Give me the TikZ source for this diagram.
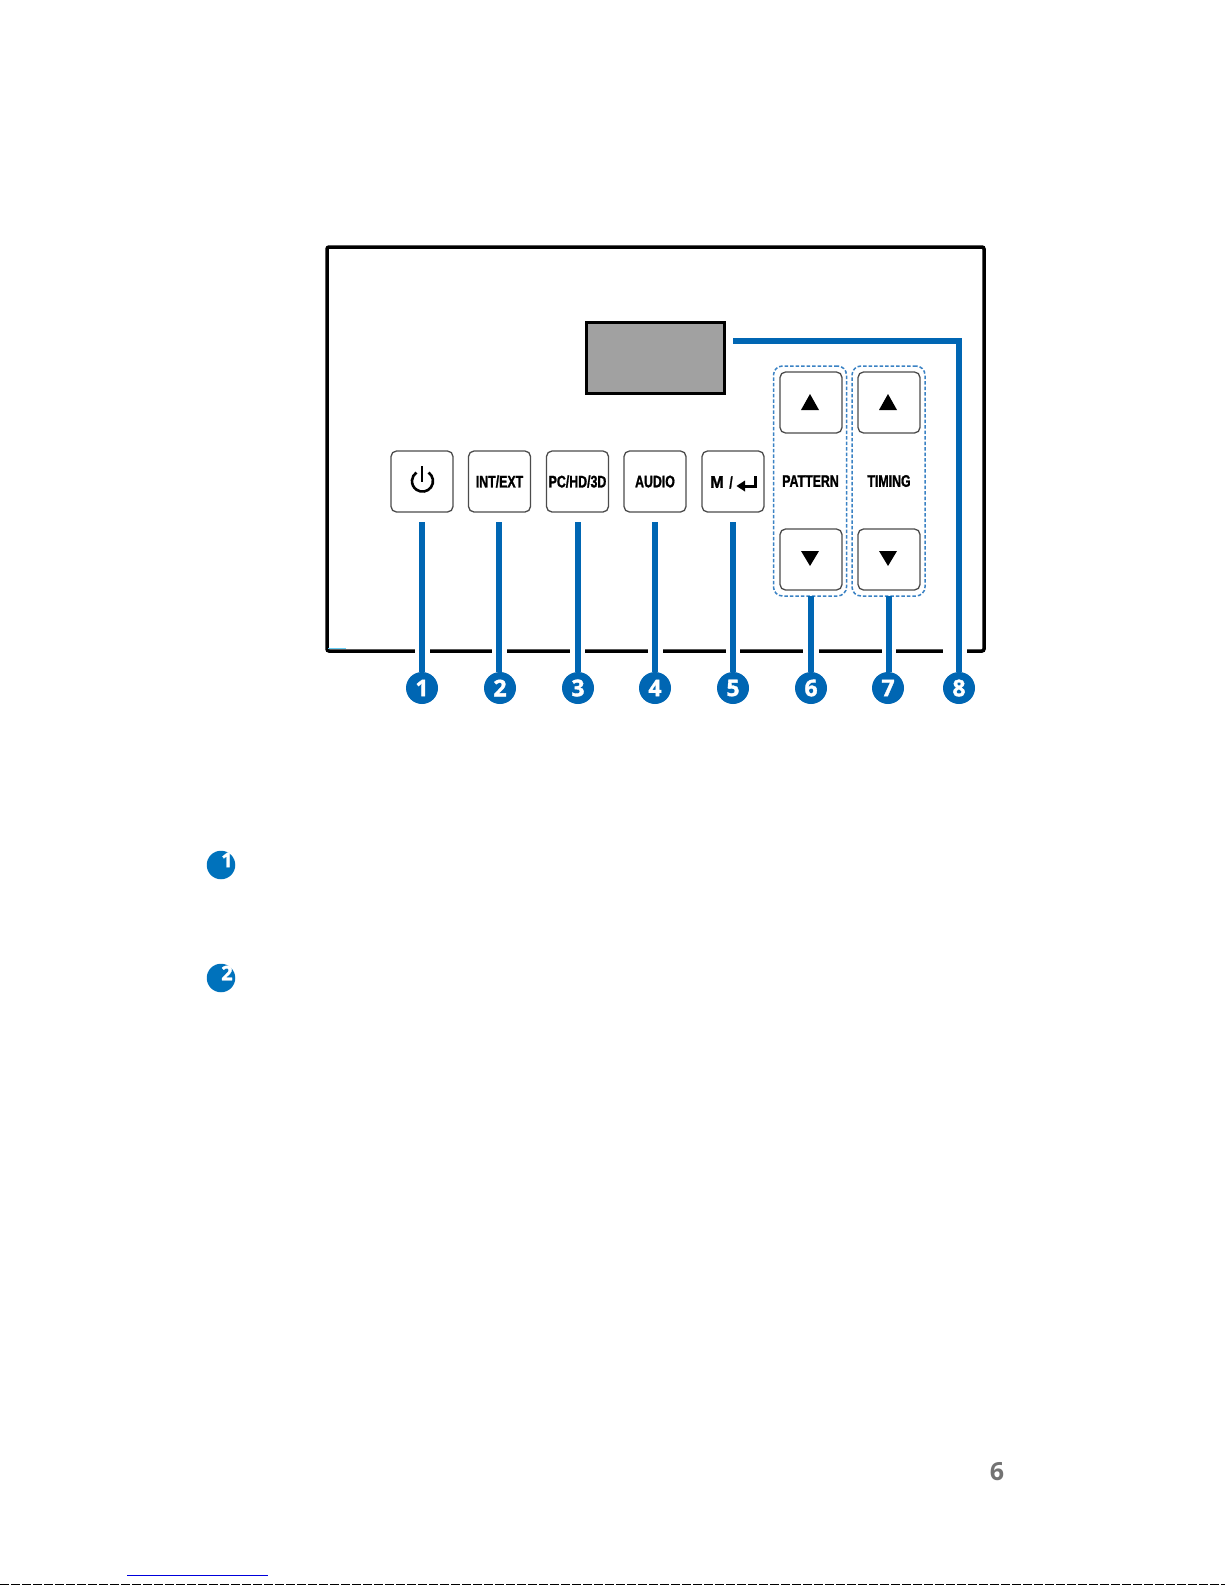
\documentclass[tikz,border=0pt]{standalone}
\usepackage{fontspec}
\setmainfont{Liberation Sans}
\newfontfamily\numfont[UprightFont=* Bold,BoldFont=* Bold,FakeBold=1.5]{Open Sans}
\newfontfamily\btnfont[UprightFont=* Bold,BoldFont=* Bold,FakeBold=1.5]{Liberation Sans}
\newfontfamily\pagefont[UprightFont=* Bold,BoldFont=* Bold]{Open Sans}
\definecolor{callout}{HTML}{0066B3}
\definecolor{bullet}{HTML}{0072BC}
\definecolor{dashblue}{HTML}{3A82C4}
\newcommand{\btn}[1]{{\btnfont\fontsize{16.7pt}{17pt}\selectfont\scalebox{.74}[1]{#1}}}
\tikzset{
  x=1pt,y=-1pt,
  panel/.style={draw=black,line width=3.5pt,rounded corners=2pt,minimum width=657pt,minimum height=404pt,inner sep=0},
  keybox/.style={draw=black!70,line width=1.3pt,rounded corners=5.5pt,minimum width=62pt,minimum height=61pt,inner sep=0,text=black},
  group/.style={draw=dashblue,line width=1.5pt,dash pattern=on 3.5pt off 2pt,rounded corners=9pt,minimum width=73pt,minimum height=230pt,inner sep=0},
  display/.style={draw=black,line width=2.6pt,fill=black!37,minimum width=138pt,minimum height=71pt,inner sep=0},
  callnum/.style={circle,fill=callout,minimum size=32pt,inner sep=0,text=white,font=\numfont\fontsize{23pt}{23pt}\selectfont},
  lead/.style={draw=callout,line width=6pt},
  gap/.style={draw=white,line width=7pt},
  smallbul/.style={circle,fill=bullet,minimum size=28.5pt,inner sep=0},
  smalldig/.style={text=white,inner sep=0,font=\numfont\fontsize{20pt}{20pt}\selectfont},
}
\begin{document}
\begin{tikzpicture}
\useasboundingbox (0,0) rectangle (1225,1585);
\fill[white] (0,0) rectangle (1225,1585);
% panel
\node[panel] (panel) at (655.5,449) {};
\draw[cyan!60,line width=1pt] (328,648.5) -- (346,648.5);
% gaps in the bottom edge
\foreach \a/\b in {414.5/429.5,492/507,570/585,648/662.5,726/740,803/819,882/896,943/967}
  \draw[gap] (\a,651) -- (\b,651);
% display
\node[display] (disp) at (655.5,358) {};
% keys
\node[keybox] (k1) at (422,481.5) {};
\node[keybox] (k2) at (499.5,481.5) {\btn{INT/EXT}};
\node[keybox] (k3) at (577.5,481.5) {\btn{PC/HD/3D}};
\node[keybox] (k4) at (655,481.5) {\btn{AUDIO}};
\node[keybox] (k5) at (733,481.5) {};
\node[inner sep=0] (mlab) at (717,482) {{\btnfont\fontsize{17pt}{17pt}\selectfont\scalebox{.95}[1]{M}}};
\node[inner sep=0] (slab) at (731,482.5) {\btn{/}};
\draw[line width=3pt] (755.5,476) -- (755.5,486) -- (743,486);
\fill (736.5,486) -- (745,480.5) -- (745,491.5) -- cycle;
% power symbol
\draw[line width=2.6pt] (428.5,472.5) arc[start angle=-55,end angle=235,radius=10.5];
\draw[line width=2.6pt] (422,466) -- (422,482);
% groups
\node[group] (g6) at (810,481) {};
\node[group] (g7) at (888.5,481) {};
\node[keybox] (u6) at (811,402.5) {};
\node[keybox] (d6) at (811,559.5) {};
\node[keybox] (u7) at (889,402.5) {};
\node[keybox] (d7) at (889,559.5) {};
\node[inner sep=0] (p6) at (810.5,481) {\btn{PATTERN}};
\node[inner sep=0] (t7) at (889,481) {\btn{TIMING}};
\fill (810,394) -- (819,410) -- (801,410) -- cycle;
\fill (888,394) -- (897,410) -- (879,410) -- cycle;
\fill (810,566) -- (819,551) -- (801,551) -- cycle;
\fill (888,566) -- (897,551) -- (879,551) -- cycle;
% callouts
\node[callnum] (c1) at (422,688) {1};
\node[callnum] (c2) at (500,688) {2};
\node[callnum] (c3) at (578,688) {3};
\node[callnum] (c4) at (655,688) {4};
\node[callnum] (c5) at (733,688) {5};
\node[callnum] (c6) at (811,688) {6};
\node[callnum] (c7) at (888,688) {7};
\node[callnum] (c8) at (959,688) {8};
\coordinate (s1) at (422,522);
\coordinate (s2) at (499,522);
\coordinate (s3) at (578,522);
\coordinate (s4) at (655,522);
\coordinate (s5) at (733,522);
\coordinate (s6) at (810.5,596);
\coordinate (s7) at (888.5,596);
\coordinate (s8) at (733,341);
\coordinate (b8) at (959,341);
\draw[lead] (s1) -- (s1 |- c1.north);
\draw[lead] (s2) -- (s2 |- c2.north);
\draw[lead] (s3) -- (s3 |- c3.north);
\draw[lead] (s4) -- (s4 |- c4.north);
\draw[lead] (s5) -- (s5 |- c5.north);
\draw[lead] (s6) -- (s6 |- c6.north);
\draw[lead] (s7) -- (s7 |- c7.north);
\draw[lead,line cap=butt] (s8) -- (b8) -- (c8.north);
% list bullets
\node[smallbul] (b1) at (221,865) {};
\node[smalldig] (n1) at (227,860) {1};
\node[smallbul] (b2) at (221,978) {};
\node[smalldig] (n2) at (227,973) {2};
% page number
\node[inner sep=0,text=black!55,font=\pagefont\fontsize{25pt}{25pt}\selectfont] (pg) at (997,1472) {6};
% footer
\coordinate (l1) at (127,1575.5);
\coordinate (l2) at (268,1575.5);
\draw[draw={rgb,255:red,0;green,0;blue,220},line width=1.2pt] (l1) -- (l2);
\coordinate (e1) at (0,1584.5);
\coordinate (e2) at (1225,1584.5);
\draw[black,line width=1pt,dash pattern=on 9pt off 2pt] (e1) -- (e2);
\end{tikzpicture}
\end{document}
